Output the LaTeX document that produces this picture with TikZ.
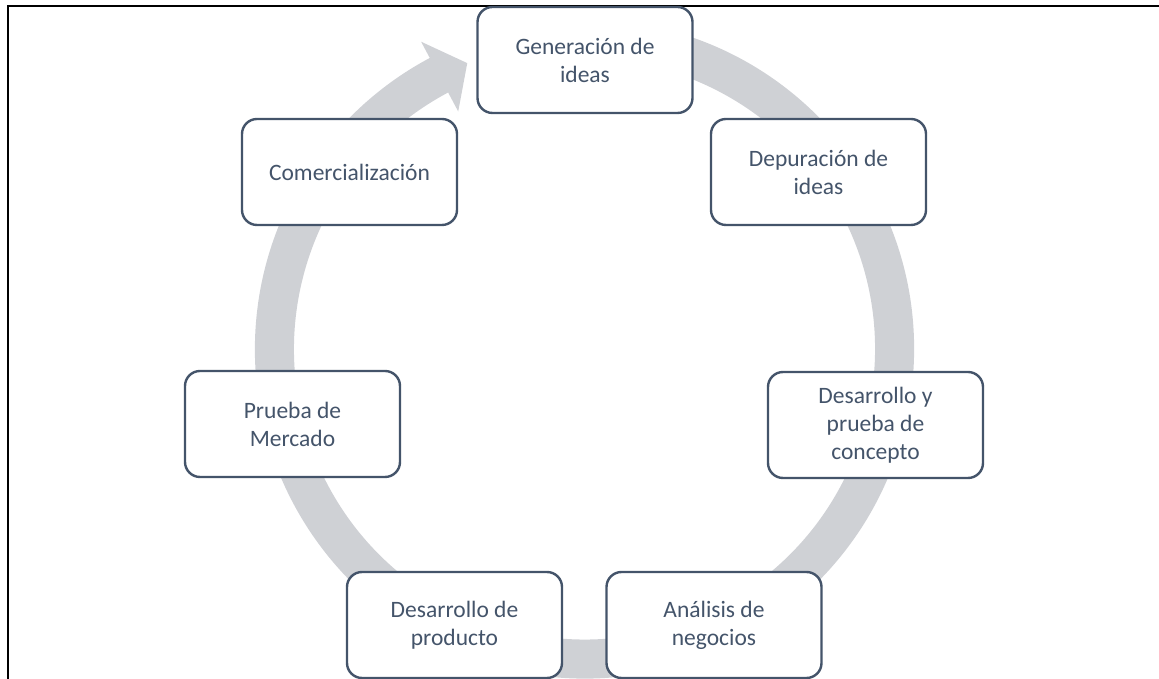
\documentclass[tikz,border=0pt]{standalone}
\usepackage{fontspec}
\setmainfont{Carlito}
\usetikzlibrary{calc}
\definecolor{boxcol}{HTML}{44546A}
\definecolor{ringgray}{RGB}{207,209,213}
\begin{document}
\begin{tikzpicture}[x=1pt,y=1pt,
  stagebox/.style={draw=boxcol, line width=2.4pt, rounded corners=15pt, fill=white,
    minimum width=215pt, minimum height=106pt, align=center, text=boxcol,
    inner sep=0pt, font=\fontsize{23.5pt}{28pt}\selectfont},
  frameline/.style={draw=black, line width=1.6pt}]
\useasboundingbox (0,0) rectangle (1159,679);
\coordinate (c) at (584.5,330);
% frame
\coordinate (fr1) at (1159,673);
\coordinate (fr2) at (8,673);
\coordinate (fr3) at (8,0);
\draw[frameline] (fr1) -- (fr2) -- (fr3);
% ring arrow
\fill[ringgray] ([shift={(c)}]85:329.6) arc[start angle=85, end angle=-242, radius=329.6]
  -- ([shift={(c)}]118:348) -- ([shift={(c)}]112.3:309) -- ([shift={(c)}]118:269)
  -- ([shift={(c)}]118:290.5) arc[start angle=-242, end angle=85, radius=290.5] -- cycle;
% stages
\node[stagebox] (n1) at (585,619) {Generación de\\ideas};
\node[stagebox] (n2) at (818.5,507) {Depuración de\\ideas};
\node[stagebox] (n3) at (875.5,254) {Desarrollo y\\prueba de\\concepto};
\node[stagebox] (n4) at (714,54) {Análisis de\\negocios};
\node[stagebox] (n5) at (454.5,54) {Desarrollo de\\producto};
\node[stagebox] (n6) at (292.5,255) {Prueba de\\Mercado};
\node[stagebox] (n7) at (349.5,507) {Comercialización};
\end{tikzpicture}
\end{document}
